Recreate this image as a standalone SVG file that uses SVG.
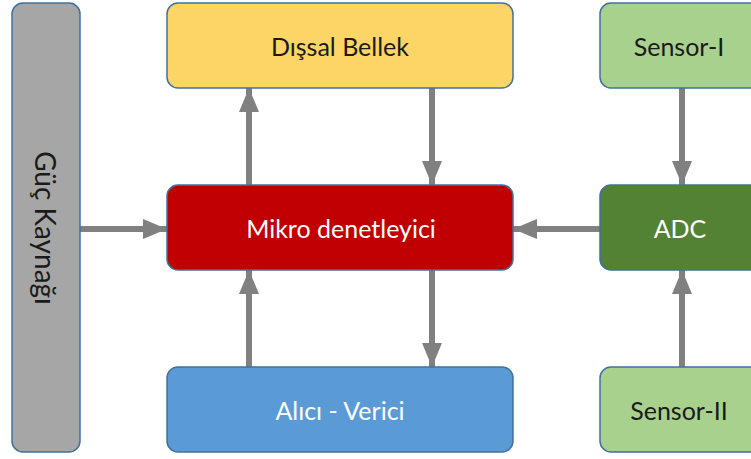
<svg xmlns="http://www.w3.org/2000/svg" width="751" height="459" viewBox="0 0 751 459">
  <style>
    .box { stroke: #41719C; stroke-width: 1.5; }
    .lbl { font-family: Lato, "Open Sans", "Liberation Sans", sans-serif; font-size: 25px; text-anchor: middle; dominant-baseline: central; }
    .dark { fill: #1a1a1a; }
    .light { fill: #ffffff; }
    .wire { stroke: #808080; stroke-width: 6; fill: none; marker-end: url(#head); }
  </style>
  <defs>
    <marker id="head" viewBox="0 0 24 20" refX="24" refY="10" markerWidth="24" markerHeight="20" markerUnits="userSpaceOnUse" orient="auto">
      <path d="M0,0 L24,10 L0,20 Z" fill="#808080"/>
    </marker>
  </defs>

  <g id="connectors">
    <line class="wire" x1="80" y1="229" x2="167" y2="229"/>
    <line class="wire" x1="249" y1="185" x2="249" y2="88"/>
    <line class="wire" x1="432" y1="88" x2="432" y2="185"/>
    <line class="wire" x1="432" y1="270" x2="432" y2="367"/>
    <line class="wire" x1="249" y1="367" x2="249" y2="270"/>
    <line class="wire" x1="600" y1="229" x2="513" y2="229"/>
    <line class="wire" x1="682" y1="88" x2="682" y2="185"/>
    <line class="wire" x1="682" y1="367" x2="682" y2="270"/>
  </g>

  <g id="guc-kaynagi">
    <rect class="box" x="12" y="3" width="68" height="449" rx="11" fill="#A6A6A6"/>
    <text class="lbl dark" style="font-size:28px" transform="translate(46,228) rotate(90)">Güç Kaynağı</text>
  </g>

  <g id="dissal-bellek">
    <rect class="box" x="167" y="3" width="346" height="85" rx="11" fill="#FDD566"/>
    <text class="lbl dark" x="340" y="46">Dışsal Bellek</text>
  </g>

  <g id="mikro-denetleyici">
    <rect class="box" x="167" y="185" width="346" height="85" rx="11" fill="#C00000"/>
    <text class="lbl light" x="341" y="228">Mikro denetleyici</text>
  </g>

  <g id="alici-verici">
    <rect class="box" x="167" y="367" width="346" height="85" rx="11" fill="#5B9BD5"/>
    <text class="lbl light" x="340" y="410">Alıcı - Verici</text>
  </g>

  <g id="sensor-1">
    <rect class="box" x="600" y="3" width="170" height="85" rx="11" fill="#A9D18E"/>
    <text class="lbl dark" x="679" y="46">Sensor-I</text>
  </g>

  <g id="adc">
    <rect class="box" x="600" y="185" width="170" height="85" rx="11" fill="#548235"/>
    <text class="lbl light" x="680" y="228">ADC</text>
  </g>

  <g id="sensor-2">
    <rect class="box" x="600" y="367" width="170" height="85" rx="11" fill="#A9D18E"/>
    <text class="lbl dark" x="679" y="410">Sensor-II</text>
  </g>
</svg>
